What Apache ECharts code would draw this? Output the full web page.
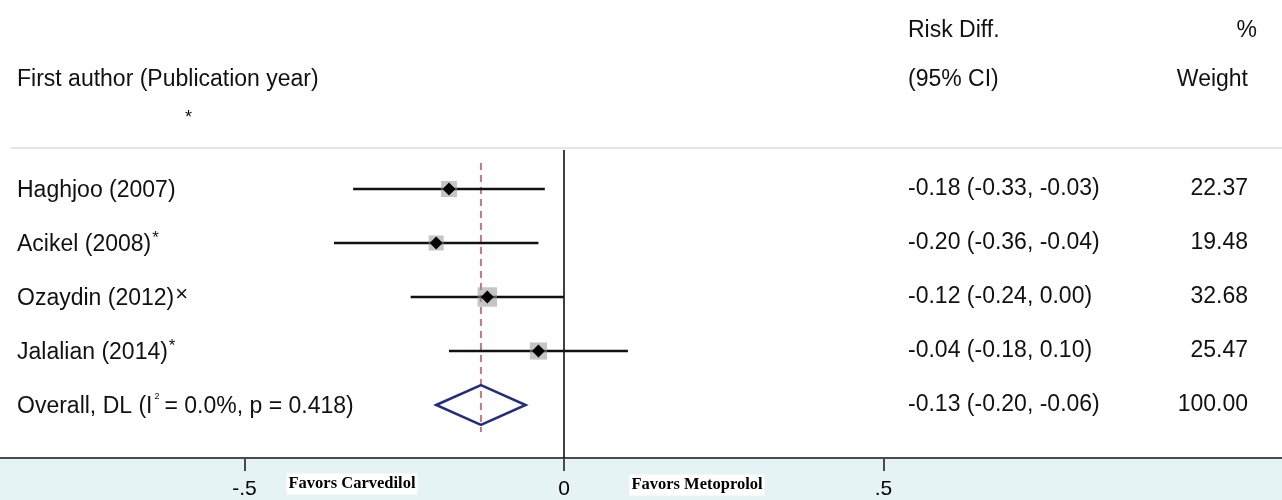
<!DOCTYPE html>
<html>
<head>
<meta charset="utf-8">
<script src="https://cdn.jsdelivr.net/npm/echarts@6/dist/echarts.min.js"></script>
<style>html,body{margin:0;padding:0;background:#fff}#c{width:1282px;height:500px}</style>
</head>
<body>
<div id="c"></div>
<script>
// ---- data ----
const studies = ['Haghjoo (2007)', 'Acikel (2008)', 'Ozaydin (2012)', 'Jalalian (2014)'];
const studyMarks = ['', '*', '\u00d7', '*'];
const estimates = [-0.18, -0.20, -0.12, -0.04];
const lowerCI = [-0.33, -0.36, -0.24, -0.18];
const upperCI = [-0.03, -0.04, 0.00, 0.10];
const weights = [22.37, 19.48, 32.68, 25.47];
const overallLabel = 'Overall, DL';
const overallI2 = '0.0%';
const overallP = '0.418';
const overallEst = [-0.13];
const overallLower = [-0.20];
const overallUpper = [-0.06];
const overallWeight = [100.00];
const xTicks = [-0.5, 0, 0.5];
const xTickLabels = ['-.5', '0', '.5'];

// ---- chart ----
const FONT = "'Liberation Sans', Arial, sans-serif";
const FS = 23;
const TXT = '#111';
const W = 1282;
const zeroPx = 564, pxPerUnit = 639;
const xMin = -zeroPx / pxPerUnit, xMax = (W - zeroPx) / pxPerUnit;
const gridTop = 150, gridBottom = 42, rowGap = 54, firstRowPx = 189;
const yMin = -(firstRowPx - gridTop) / rowGap;
const yMax = (500 - gridBottom - firstRowPx) / rowGap;

const fmt = v => (v < 0 ? '-' : '') + Math.abs(v).toFixed(2);
const ciText = (e, l, u) => fmt(e) + ' (' + fmt(l) + ', ' + fmt(u) + ')';

const rows = studies.map((s, i) => [estimates[i], i, lowerCI[i], upperCI[i], weights[i]]);

const chart = echarts.init(document.getElementById('c'));
chart.setOption({
  animation: false,
  backgroundColor: '#fff',
  grid: { left: 0, right: 0, top: gridTop, bottom: gridBottom },
  xAxis: {
    type: 'value', min: xMin, max: xMax,
    splitLine: { show: false },
    axisLine: { show: true, onZero: false, lineStyle: { color: '#4a4a4a', width: 2 } },
    axisTick: { show: true, customValues: xTicks, length: 13, lineStyle: { color: '#4a4a4a', width: 2 } },
    axisLabel: {
      show: true, customValues: xTicks, margin: 21, fontSize: 21, fontFamily: FONT, color: '#000',
      formatter: v => xTickLabels[xTicks.findIndex(t => Math.abs(t - v) < 1e-9)]
    }
  },
  yAxis: {
    type: 'value', min: yMin, max: yMax, inverse: true, show: false
  },
  graphic: [
    { type: 'rect', z: -10, silent: true, shape: { x: 0, y: 459, width: W, height: 41 }, style: { fill: '#e5f3f5' } },
    { type: 'line', silent: true, shape: { x1: 11, y1: 148, x2: W, y2: 148 }, style: { stroke: '#dce7e9', lineWidth: 2 } },
    { type: 'text', x: 17, y: 80, style: { text: 'First author (Publication year)', font: FS + 'px ' + FONT, fill: TXT, verticalAlign: 'middle' } },
    { type: 'text', x: 185, y: 118, style: { text: '*', font: '18px ' + FONT, fill: TXT, verticalAlign: 'middle' } },
    { type: 'text', x: 908, y: 31, style: { text: 'Risk Diff.', font: FS + 'px ' + FONT, fill: TXT, verticalAlign: 'middle' } },
    { type: 'text', x: 908, y: 80, style: { text: '(95% CI)', font: FS + 'px ' + FONT, fill: TXT, verticalAlign: 'middle' } },
    { type: 'text', x: 1257, y: 31, style: { text: '%', font: FS + 'px ' + FONT, fill: TXT, verticalAlign: 'middle', align: 'right' } },
    { type: 'text', x: 1248, y: 80, style: { text: 'Weight', font: FS + 'px ' + FONT, fill: TXT, verticalAlign: 'middle', align: 'right' } },
    { type: 'text', x: 352, y: 484, z: 10, style: { text: 'Favors Carvedilol', font: 'bold 16.5px "Liberation Serif", "Times New Roman", serif', fill: '#000', align: 'center', verticalAlign: 'middle', backgroundColor: '#fff', padding: [2, 2, 2, 2] } },
    { type: 'text', x: 697, y: 485, z: 10, style: { text: 'Favors Metoprolol', font: 'bold 16.5px "Liberation Serif", "Times New Roman", serif', fill: '#000', align: 'center', verticalAlign: 'middle', backgroundColor: '#fff', padding: [2, 2, 2, 2] } }
  ],
  series: [
    {
      type: 'custom', name: 'zero', silent: true, z: 1,
      data: [[0]],
      renderItem: (params, api) => {
        const top = api.coord([0, yMin]);
        const bot = api.coord([0, yMax]);
        return { type: 'line', shape: { x1: top[0], y1: top[1], x2: bot[0], y2: bot[1] }, style: { stroke: '#000', lineWidth: 1.5 } };
      }
    },
    {
      type: 'custom', name: 'overallLine', silent: true, z: 2,
      data: [[overallEst[0]]],
      renderItem: (params, api) => {
        const e = api.value(0);
        const a = api.coord([e, -0.48]);
        const b = api.coord([e, studies.length + 0.5]);
        return { type: 'line', shape: { x1: a[0], y1: a[1], x2: b[0], y2: b[1] }, style: { stroke: '#c4787f', lineWidth: 2, lineDash: [7, 5] } };
      }
    },
    {
      type: 'custom', name: 'studies', silent: true, z: 3,
      data: rows,
      renderItem: (params, api) => {
        const i = params.dataIndex;
        const e = api.value(0), r = api.value(1), l = api.value(2), u = api.value(3), w = api.value(4);
        const c = api.coord([e, r]);
        const pl = api.coord([l, r]);
        const pu = api.coord([u, r]);
        const sq = Math.sqrt(w) * 3.4;
        const d = 6.5;
        return {
          type: 'group',
          children: [
            { type: 'line', shape: { x1: pl[0], y1: c[1], x2: pu[0], y2: c[1] }, style: { stroke: '#111', lineWidth: 2.6 } },
            { type: 'rect', shape: { x: c[0] - sq / 2, y: c[1] - sq / 2, width: sq, height: sq }, style: { fill: 'rgba(150,150,150,0.55)' } },
            { type: 'polygon', shape: { points: [[c[0] - d, c[1]], [c[0], c[1] - d], [c[0] + d, c[1]], [c[0], c[1] + d]] }, style: { fill: '#000' } },
            { type: 'text', x: 17, y: c[1], style: {
                text: '{n|' + studies[i] + '}' + (studyMarks[i] ? '{s|' + studyMarks[i] + '}' : ''),
                verticalAlign: 'middle', fill: TXT, font: FS + 'px ' + FONT,
                rich: {
                  n: { fontSize: FS, fontFamily: FONT, fill: TXT, lineHeight: 26, verticalAlign: 'bottom' },
                  s: { fontSize: studyMarks[i] === '*' ? 17 : 22, fontFamily: FONT, fill: TXT, lineHeight: 26, verticalAlign: 'top', padding: [0, 0, 6, 1] }
                }
              } },
            { type: 'text', x: 908, y: c[1], style: { text: ciText(e, l, u), font: FS + 'px ' + FONT, fill: TXT, verticalAlign: 'middle' } },
            { type: 'text', x: 1248, y: c[1], style: { text: w.toFixed(2), font: FS + 'px ' + FONT, fill: TXT, verticalAlign: 'middle', align: 'right' } }
          ]
        };
      }
    },
    {
      type: 'custom', name: 'overall', silent: true, z: 4,
      data: [[overallEst[0], studies.length, overallLower[0], overallUpper[0], overallWeight[0]]],
      renderItem: (params, api) => {
        const e = api.value(0), r = api.value(1), l = api.value(2), u = api.value(3), w = api.value(4);
        const c = api.coord([e, r]);
        const pl = api.coord([l, r]);
        const pu = api.coord([u, r]);
        const h = 20;
        return {
          type: 'group',
          children: [
            { type: 'polygon', shape: { points: [[pl[0], c[1]], [c[0], c[1] - h], [pu[0], c[1]], [c[0], c[1] + h]] }, style: { fill: 'none', stroke: '#232c80', lineWidth: 2.5 } },
            { type: 'text', x: 17, y: c[1], style: {
                text: '{n|' + overallLabel + ' (I}{s|2}{n|= ' + overallI2 + ', p = ' + overallP + ')}',
                verticalAlign: 'middle', fill: TXT, font: FS + 'px ' + FONT,
                rich: {
                  n: { fontSize: FS, fontFamily: FONT, fill: TXT, lineHeight: 26, verticalAlign: 'bottom' },
                  s: { fontSize: 9, fontFamily: FONT, fill: TXT, lineHeight: 26, verticalAlign: 'top', padding: [0, 5, 0, 2] }
                }
              } },
            { type: 'text', x: 908, y: c[1], style: { text: ciText(e, l, u), font: FS + 'px ' + FONT, fill: TXT, verticalAlign: 'middle' } },
            { type: 'text', x: 1248, y: c[1], style: { text: w.toFixed(2), font: FS + 'px ' + FONT, fill: TXT, verticalAlign: 'middle', align: 'right' } }
          ]
        };
      }
    }
  ]
});
</script>
</body>
</html>
